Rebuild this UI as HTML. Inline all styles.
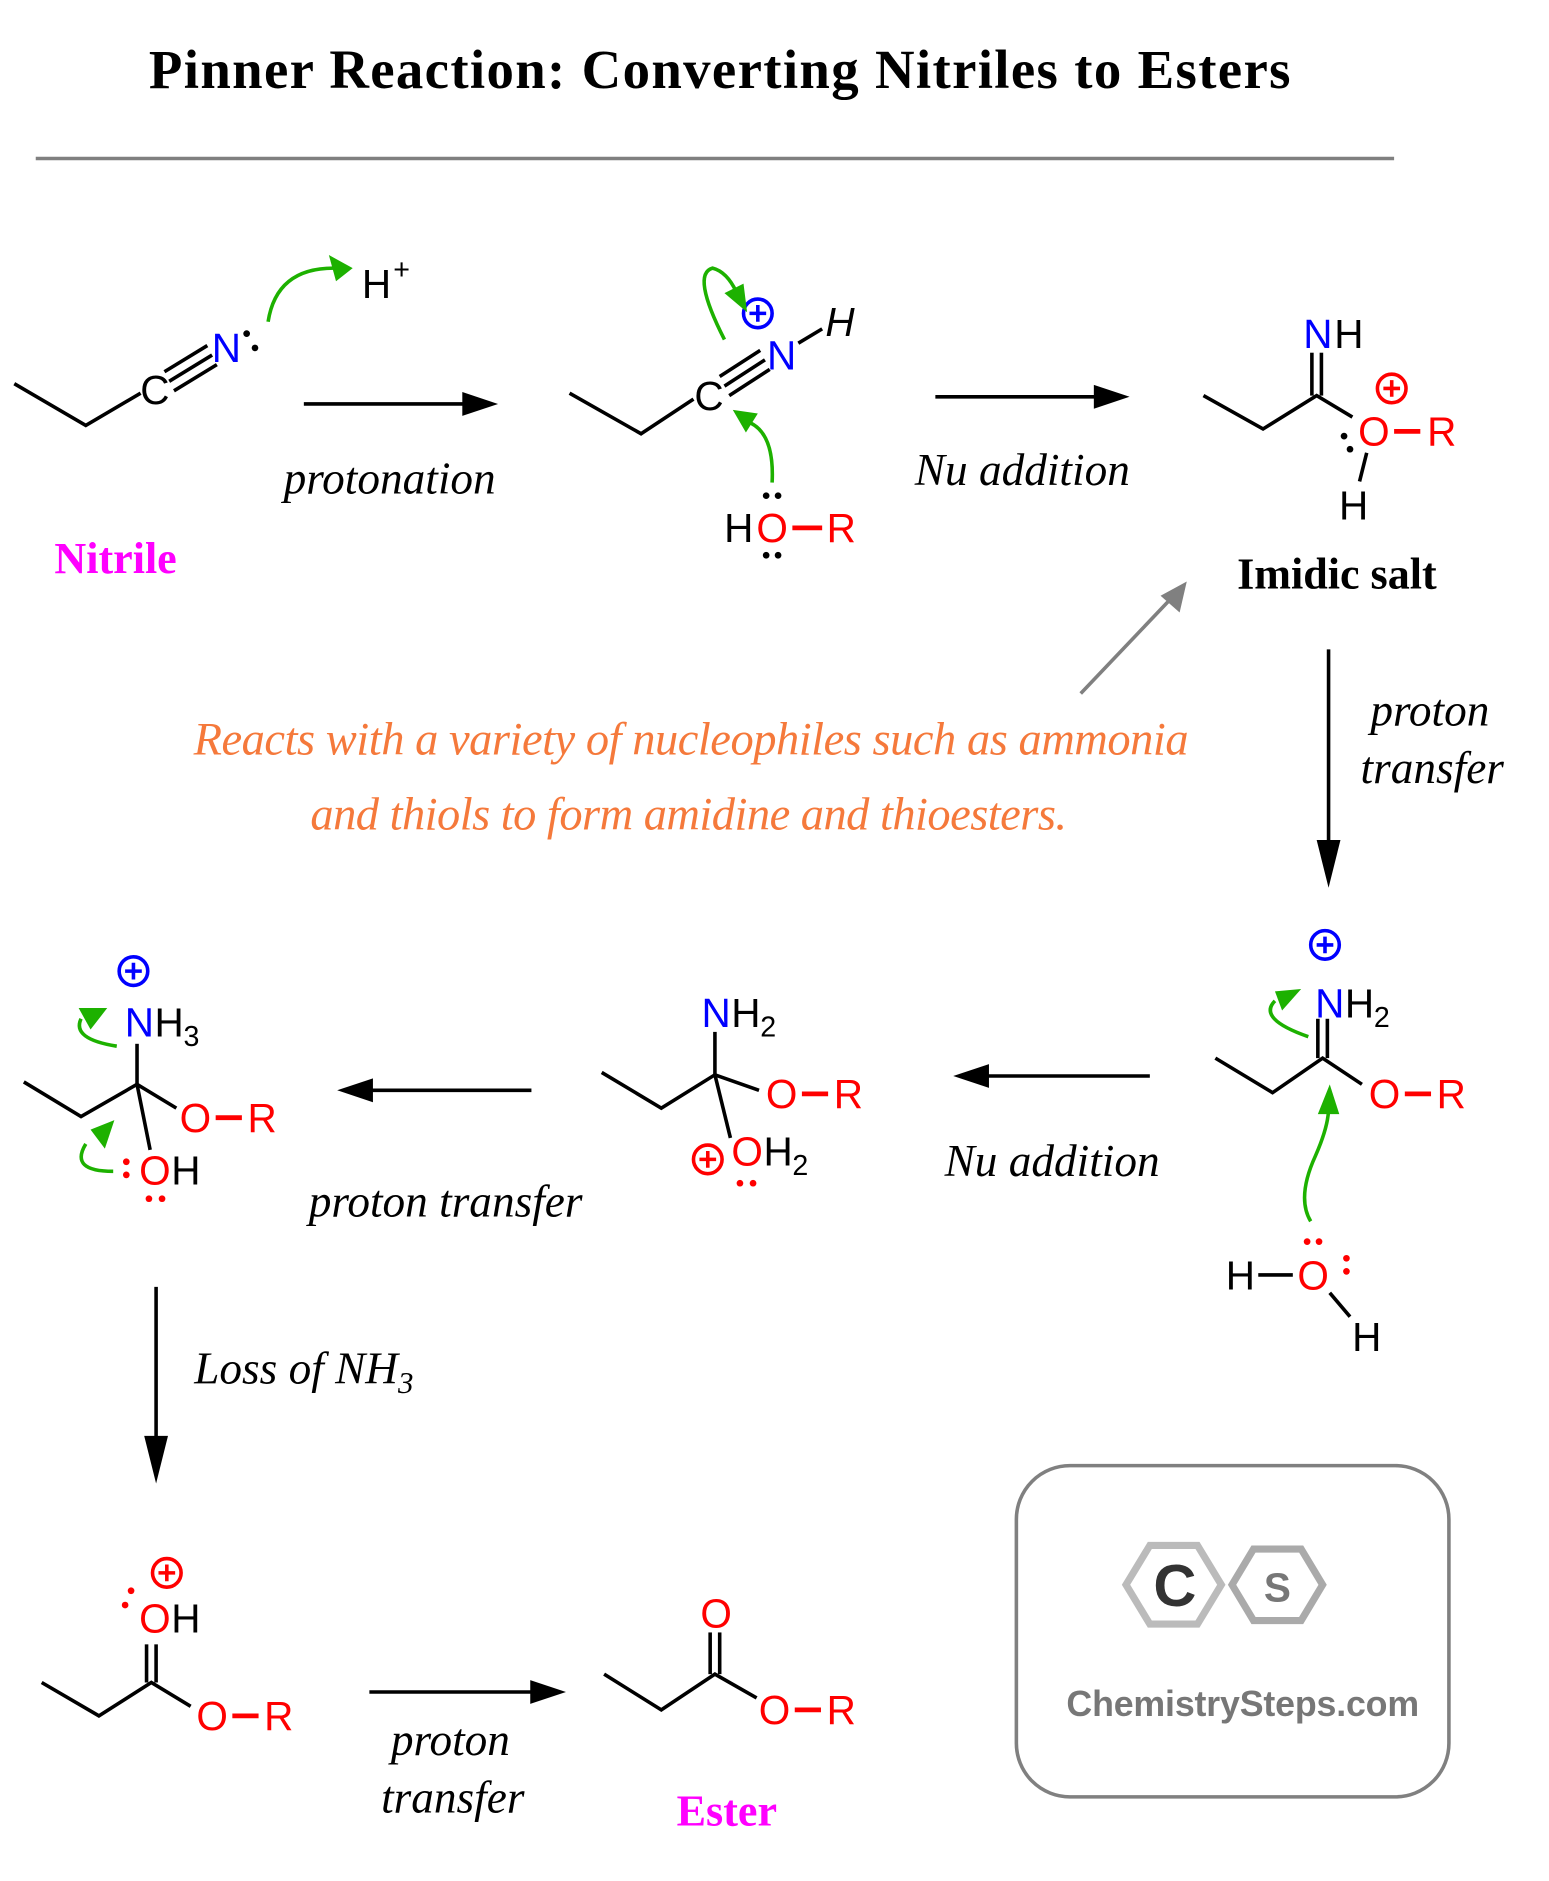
<!DOCTYPE html>
<html><head><meta charset="utf-8"><style>html,body{margin:0;padding:0;background:#fff}svg{display:block}</style></head><body>
<svg width="1549" height="1881" viewBox="0 0 1300 1578.6" preserveAspectRatio="none" xmlns="http://www.w3.org/2000/svg">
<style>
.b{stroke:#000;stroke-width:3;fill:none}
.a{font-family:"Liberation Sans",sans-serif;font-size:34px;text-anchor:middle}
.s{font-family:"Liberation Sans",sans-serif;font-size:24px}
.i{font-family:"Liberation Serif",serif;font-style:italic;font-size:38px;text-anchor:middle}
.gr{stroke:#1db100;stroke-width:3;fill:none}
.r{fill:#f00}.bl{fill:#00f}
</style>
<text x="604" y="74" font-family="Liberation Serif,serif" font-weight="bold" font-size="46" text-anchor="middle" textLength="958">Pinner Reaction: Converting Nitriles to Esters</text>
<line x1="30" y1="133" x2="1170" y2="133" stroke="#808080" stroke-width="3"/>

<!-- Nitrile -->
<polyline class="b" points="12,322 72,357 118,330"/>
<text class="a" x="130" y="339">C</text>
<g class="b"><line x1="142" y1="320" x2="178" y2="298"/><line x1="138" y1="312" x2="174" y2="290"/><line x1="146" y1="328" x2="182" y2="306"/></g>
<text class="a bl" x="190" y="304">N</text>
<circle cx="207" cy="280" r="2.8"/><circle cx="214" cy="292" r="2.8"/>
<path class="gr" d="M225,270 Q232,225 280,225"/>
<polygon points="296,225 276,214 282,236" fill="#1db100"/>
<text class="a" x="316" y="250" font-size="32">H</text><text class="s" x="330" y="234">+</text>
<line x1="255" y1="339" x2="395" y2="339" class="b"/><polygon points="418,339 388,329 388,349"/>
<text class="i" x="327" y="414">protonation</text>
<text x="97" y="481" font-family="Liberation Serif,serif" font-weight="bold" font-size="37" fill="#f0f" text-anchor="middle">Nitrile</text>

<!-- protonated nitrile -->
<polyline class="b" points="478,330 538,364 582,335"/>
<text class="a" x="595" y="344">C</text>
<g class="b"><line x1="608" y1="324" x2="642" y2="302"/><line x1="604" y1="316" x2="638" y2="294"/><line x1="612" y1="332" x2="646" y2="310"/></g>
<text class="a bl" x="656" y="310">N</text>
<line class="b" x1="670" y1="288" x2="690" y2="276"/>
<text class="a" x="705" y="282" font-style="italic">H</text>
<circle cx="636" cy="263" r="12" fill="none" stroke="#00f" stroke-width="3"/>
<path d="M629,263h14M636,256v14" stroke="#00f" stroke-width="3"/>
<path class="gr" d="M608,285 Q580,230 598,225 Q610,228 618,245"/>
<polygon points="627,262 608,246 624,238" fill="#1db100"/>
<path class="gr" d="M648,405 Q650,365 630,355"/>
<polygon points="615,344 636,347 626,363" fill="#1db100"/>
<text class="a" x="620" y="455">H</text><text class="a r" x="648" y="455">O</text>
<line x1="665" y1="443" x2="690" y2="443" stroke="#f00" stroke-width="4"/>
<text class="a r" x="706" y="455">R</text>
<circle cx="643" cy="416" r="2.8"/><circle cx="653" cy="416" r="2.8"/><circle cx="643" cy="466" r="2.8"/><circle cx="653" cy="466" r="2.8"/>
<line x1="785" y1="333" x2="925" y2="333" class="b"/><polygon points="948,333 918,323 918,343"/>
<text class="i" x="858" y="407">Nu addition</text>

<!-- Imidic salt -->
<polyline class="b" points="1010,332 1060,360 1105,332 1135,350"/>
<line class="b" x1="1101" y1="332" x2="1101" y2="296"/><line class="b" x1="1109" y1="332" x2="1109" y2="296"/>
<text class="a bl" x="1106" y="292">N</text><text class="a" x="1132" y="292">H</text>
<text class="a r" x="1153" y="374">O</text>
<line x1="1170" y1="362" x2="1192" y2="362" stroke="#f00" stroke-width="4"/>
<text class="a r" x="1210" y="374">R</text>
<circle cx="1168" cy="326" r="12" fill="none" stroke="#f00" stroke-width="3"/>
<path d="M1161,326h14M1168,319v14" stroke="#f00" stroke-width="3"/>
<circle cx="1128" cy="366" r="2.8"/><circle cx="1133" cy="377" r="2.8"/>
<line class="b" x1="1147" y1="380" x2="1141" y2="404"/>
<text class="a" x="1136" y="436">H</text>
<text x="1122" y="494" font-family="Liberation Serif,serif" font-weight="bold" font-size="37" text-anchor="middle">Imidic salt</text>
<line x1="907" y1="582" x2="985" y2="500" stroke="#808080" stroke-width="3"/><polygon points="996,488 990,514 974,500" fill="#808080"/>
<text x="580" y="633" style="font-family:'Liberation Serif',serif;font-style:italic;font-size:39px;text-anchor:middle" fill="#f5793b" textLength="835">Reacts with a variety of nucleophiles such as ammonia</text>
<text x="578" y="696" style="font-family:'Liberation Serif',serif;font-style:italic;font-size:39px;text-anchor:middle" fill="#f5793b" textLength="635">and thiols to form amidine and thioesters.</text>
<line class="b" x1="1115" y1="545" x2="1115" y2="720"/><polygon points="1115,745 1105,705 1125,705"/>
<text class="i" x="1200" y="609">proton</text><text class="i" x="1202" y="657">transfer</text>

<!-- row2 right -->
<polyline class="b" points="1020,888 1068,917 1110,888 1143,910"/>
<line class="b" x1="1106" y1="888" x2="1106" y2="855"/><line class="b" x1="1114" y1="888" x2="1114" y2="855"/>
<text class="a bl" x="1116" y="854">N</text><text class="a" x="1141" y="854">H</text><text class="s" x="1153" y="862">2</text>
<circle cx="1112" cy="793" r="12" fill="none" stroke="#00f" stroke-width="3"/>
<path d="M1105,793h14M1112,786v14" stroke="#00f" stroke-width="3"/>
<text class="a r" x="1162" y="930">O</text>
<line x1="1179" y1="918" x2="1201" y2="918" stroke="#f00" stroke-width="4"/>
<text class="a r" x="1218" y="930">R</text>
<path class="gr" d="M1098,870 Q1055,855 1070,840"/>
<polygon points="1092,830 1070,832 1076,848" fill="#1db100"/>
<path class="gr" d="M1100,1025 Q1088,1005 1104,970 Q1115,945 1115,930"/>
<polygon points="1116,910 1106,935 1124,935" fill="#1db100"/>
<text class="a" x="1041" y="1082">H</text>
<line class="b" x1="1056" y1="1070" x2="1085" y2="1070"/>
<text class="a r" x="1102" y="1082">O</text>
<circle cx="1097" cy="1042" r="2.8" fill="#f00"/><circle cx="1107" cy="1042" r="2.8" fill="#f00"/>
<circle cx="1130" cy="1056" r="2.8" fill="#f00"/><circle cx="1130" cy="1067" r="2.8" fill="#f00"/>
<line class="b" x1="1116" y1="1085" x2="1133" y2="1105"/>
<text class="a" x="1147" y="1134">H</text>
<line class="b" x1="965" y1="903" x2="825" y2="903"/><polygon points="800,903 830,893 830,913"/>
<text class="i" x="883" y="987">Nu addition</text>

<!-- row2 middle -->
<polyline class="b" points="505,900 555,930 600,902 637,915"/>
<line class="b" x1="600" y1="902" x2="600" y2="866"/><line class="b" x1="600" y1="902" x2="613" y2="955"/>
<text class="a bl" x="601" y="862">N</text><text class="a" x="626" y="862">H</text><text class="s" x="638" y="870">2</text>
<text class="a r" x="656" y="930">O</text>
<line x1="673" y1="918" x2="695" y2="918" stroke="#f00" stroke-width="4"/>
<text class="a r" x="712" y="930">R</text>
<circle cx="594" cy="973" r="12" fill="none" stroke="#f00" stroke-width="3"/>
<path d="M587,973h14M594,966v14" stroke="#f00" stroke-width="3"/>
<text class="a r" x="627" y="978">O</text><text class="a" x="653" y="978">H</text><text class="s" x="665" y="986">2</text>
<circle cx="621" cy="993" r="2.8" fill="#f00"/><circle cx="632" cy="993" r="2.8" fill="#f00"/>
<line class="b" x1="446" y1="915" x2="308" y2="915"/><polygon points="283,915 313,905 313,925"/>
<text class="i" x="374" y="1021">proton transfer</text>

<!-- row2 left -->
<polyline class="b" points="20,908 68,937 115,910 148,930"/>
<line class="b" x1="115" y1="910" x2="115" y2="876"/><line class="b" x1="115" y1="910" x2="126" y2="965"/>
<text class="a bl" x="117" y="870">N</text><text class="a" x="142" y="870">H</text><text class="s" x="154" y="878">3</text>
<circle cx="112" cy="815" r="12" fill="none" stroke="#00f" stroke-width="3"/>
<path d="M105,815h14M112,808v14" stroke="#00f" stroke-width="3"/>
<text class="a r" x="164" y="950">O</text>
<line x1="181" y1="938" x2="203" y2="938" stroke="#f00" stroke-width="4"/>
<text class="a r" x="220" y="950">R</text>
<text class="a r" x="130" y="994">O</text><text class="a" x="156" y="994">H</text>
<circle cx="106" cy="975" r="2.8" fill="#f00"/><circle cx="106" cy="986" r="2.8" fill="#f00"/>
<circle cx="125" cy="1006" r="2.8" fill="#f00"/><circle cx="136" cy="1006" r="2.8" fill="#f00"/>
<path class="gr" d="M98,878 Q60,872 68,855"/>
<polygon points="90,846 66,846 76,864" fill="#1db100"/>
<path class="gr" d="M95,983 Q58,983 72,960"/>
<polygon points="96,940 76,948 88,964" fill="#1db100"/>
<line class="b" x1="131" y1="1080" x2="131" y2="1220"/><polygon points="131,1245 121,1205 141,1205"/>
<text x="163" y="1161" style="font-family:'Liberation Serif',serif;font-style:italic;font-size:38px;text-anchor:start">Loss of NH<tspan font-size="26" dy="8">3</tspan></text>

<!-- bottom left -->
<polyline class="b" points="35,1412 83,1440 127,1412 160,1432"/>
<line class="b" x1="123" y1="1412" x2="123" y2="1380"/><line class="b" x1="131" y1="1412" x2="131" y2="1380"/>
<text class="a r" x="130" y="1370">O</text><text class="a" x="156" y="1370">H</text>
<circle cx="140" cy="1320" r="12" fill="none" stroke="#f00" stroke-width="3"/>
<path d="M133,1320h14M140,1313v14" stroke="#f00" stroke-width="3"/>
<circle cx="105" cy="1347" r="2.8" fill="#f00"/><circle cx="110" cy="1335" r="2.8" fill="#f00"/>
<text class="a r" x="178" y="1452">O</text>
<line x1="195" y1="1440" x2="217" y2="1440" stroke="#f00" stroke-width="4"/>
<text class="a r" x="234" y="1452">R</text>
<line class="b" x1="310" y1="1420" x2="450" y2="1420"/><polygon points="475,1420 445,1410 445,1430"/>
<text class="i" x="378" y="1473">proton</text><text class="i" x="380" y="1521">transfer</text>

<!-- Ester -->
<polyline class="b" points="507,1405 555,1435 600,1405 635,1425"/>
<line class="b" x1="596" y1="1405" x2="596" y2="1370"/><line class="b" x1="604" y1="1405" x2="604" y2="1370"/>
<text class="a r" x="601" y="1366">O</text>
<text class="a r" x="650" y="1447">O</text>
<line x1="667" y1="1435" x2="689" y2="1435" stroke="#f00" stroke-width="4"/>
<text class="a r" x="706" y="1447">R</text>
<text x="610" y="1532" font-family="Liberation Serif,serif" font-weight="bold" font-size="37" fill="#f0f" text-anchor="middle">Ester</text>

<!-- logo -->
<rect x="853" y="1230" width="363" height="278" rx="45" fill="none" stroke="#808080" stroke-width="3"/>
<polygon points="965,1297 1005,1297 1025,1330 1005,1363 965,1363 945,1330" fill="none" stroke="#bbb" stroke-width="6"/>
<polygon points="1052,1300 1092,1300 1110,1330 1092,1360 1052,1360 1034,1330" fill="none" stroke="#aaa" stroke-width="6"/>
<text x="986" y="1348" font-family="Liberation Sans,sans-serif" font-weight="bold" font-size="50" fill="#333" text-anchor="middle">C</text>
<text x="1072" y="1344" font-family="Liberation Sans,sans-serif" font-weight="bold" font-size="34" fill="#777" text-anchor="middle">S</text>
<text x="1043" y="1440" font-family="Liberation Sans,sans-serif" font-weight="bold" font-size="30" fill="#777" text-anchor="middle" textLength="296">ChemistrySteps.com</text>
</svg>
</body></html>
